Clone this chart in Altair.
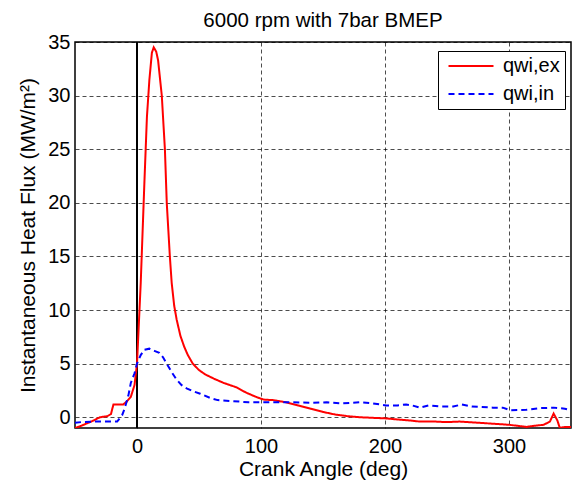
import altair as alt
import pandas as pd

series_names = ["qwi,ex", "qwi,in"]
series_colors = ["#ff0000", "#0000ff"]

ex_x = [-50, -45, -35, -30, -24, -21, -19, -11, -8, -5, -2, 0, 3, 6, 8, 10, 12, 13.5, 15.5,
        17, 20, 22.5, 24, 26.5, 28, 30, 32, 35, 38, 41, 45, 50, 55, 62, 70, 80, 88, 96, 102,
        110, 120, 130, 140, 150, 160, 170, 180, 190, 200, 210, 220, 228, 240, 250, 260, 274,
        287, 300, 314, 320, 328, 333, 336, 339, 341, 345, 350]
ex_y = [-1.0, -0.8, -0.3, 0.0, 0.1, 0.3, 1.2, 1.2, 1.5, 1.9, 3.0, 5.0, 12.5, 22.0, 28.0,
        31.5, 34.0, 34.5, 34.1, 33.3, 30.0, 25.0, 20.0, 15.0, 12.5, 10.4, 9.1, 7.6, 6.6, 5.8,
        5.0, 4.4, 4.0, 3.6, 3.2, 2.8, 2.3, 1.9, 1.65, 1.6, 1.4, 1.1, 0.8, 0.5, 0.25, 0.1, 0.0,
        -0.05, -0.1, -0.2, -0.3, -0.4, -0.4, -0.45, -0.4, -0.5, -0.6, -0.7, -0.9, -0.8, -0.7,
        -0.4, 0.35, -0.3, -1.0, -0.9, -0.9]

in_x = [-50, -45, -35, -25, -16, -12, -10, -7, -5, -2, 0, 3, 6, 10, 14, 18, 21, 24, 28, 32,
        36, 40, 46, 51, 59, 65, 78, 90, 101, 110, 126, 140, 153, 165, 180, 190, 201, 210, 217,
        222, 228, 235, 245, 255, 262, 270, 287, 295, 301, 314, 325, 336, 345, 350]
in_y = [-0.5, -0.45, -0.4, -0.4, -0.4, 0.2, 0.8, 2.0, 3.2, 4.1, 5.0, 5.8, 6.3, 6.4, 6.2, 6.0,
        5.6, 5.0, 4.2, 3.5, 3.0, 2.7, 2.4, 2.2, 1.8, 1.6, 1.5, 1.4, 1.4, 1.4, 1.4, 1.35, 1.4,
        1.3, 1.4, 1.3, 1.1, 1.1, 1.2, 1.1, 0.9, 1.1, 1.0, 1.0, 1.2, 1.0, 0.9, 0.9, 0.65, 0.7,
        0.85, 0.9, 0.8, 0.65]

x_ticks = [0, 100, 200, 300]
y_ticks = [0, 5, 10, 15, 20, 25, 30, 35]
x_domain = [-50, 350]
y_domain = [-1, 35]
ref_line = [0]

rows = []
for i, (a, f) in enumerate(zip(ex_x, ex_y)):
    rows.append({"angle": a, "flux": f, "series": series_names[0], "idx": i})
for i, (a, f) in enumerate(zip(in_x, in_y)):
    rows.append({"angle": a, "flux": f, "series": series_names[1], "idx": i})
df = pd.DataFrame(rows)

FONT = "Liberation Sans"

legend_kw = dict(
    title=None,
    orient="none",
    legendX=363,
    legendY=9,
    direction="vertical",
    fillColor="white",
    strokeColor="black",
    padding=5,
    rowPadding=8,
    symbolType="M-3,0H3",
    symbolSize=225,
    symbolStrokeWidth=2,
    symbolOffset=18,
    labelOffset=22,
    labelFont=FONT,
    labelFontSize=20,
    labelColor="black",
    cornerRadius=0,
)

zero = alt.Chart(pd.DataFrame({"angle": ref_line})).mark_rule(
    color="black", strokeWidth=2
).encode(
    x=alt.X("angle:Q", scale=alt.Scale(domain=x_domain, nice=False, zero=False))
)

lines = alt.Chart(df).mark_line(strokeWidth=2, clip=True).encode(
    x=alt.X(
        "angle:Q",
        scale=alt.Scale(domain=x_domain, nice=False, zero=False),
        axis=alt.Axis(values=x_ticks, title="Crank Angle (deg)", labelPadding=8,
                      titlePadding=2, format="d"),
    ),
    y=alt.Y(
        "flux:Q",
        scale=alt.Scale(domain=y_domain, nice=False, zero=False),
        axis=alt.Axis(values=y_ticks, title="Instantaneous Heat Flux (MW/m²)",
                      labelPadding=5, titlePadding=9),
    ),
    color=alt.Color("series:N",
                    scale=alt.Scale(domain=series_names, range=series_colors),
                    legend=alt.Legend(**legend_kw)),
    strokeDash=alt.StrokeDash("series:N",
                              scale=alt.Scale(domain=series_names, range=[[1, 0], [6, 4]]),
                              legend=alt.Legend(**legend_kw)),
    order="idx:Q",
)

chart = alt.layer(zero, lines).properties(
    width=496,
    height=386,
    background="white",
    autosize=alt.AutoSizeParams(type="none"),
    padding={"left": 75, "top": 42, "right": 2, "bottom": 56},
    title=alt.TitleParams("6000 rpm with 7bar BMEP", font=FONT, fontSize=20.5,
                          fontWeight="normal", color="black", anchor="middle", offset=1),
).configure_view(
    stroke="black", strokeWidth=1.5
).configure_axis(
    labelFont=FONT, labelFontSize=20, labelColor="black",
    titleFont=FONT, titleFontSize=21, titleFontWeight="normal", titleColor="black",
    domain=False, ticks=False,
    grid=True, gridColor="black", gridDash=[4, 3], gridOpacity=0.7, gridWidth=1,
)

chart.save("out.html", embed_options={"renderer": "svg", "actions": False})
